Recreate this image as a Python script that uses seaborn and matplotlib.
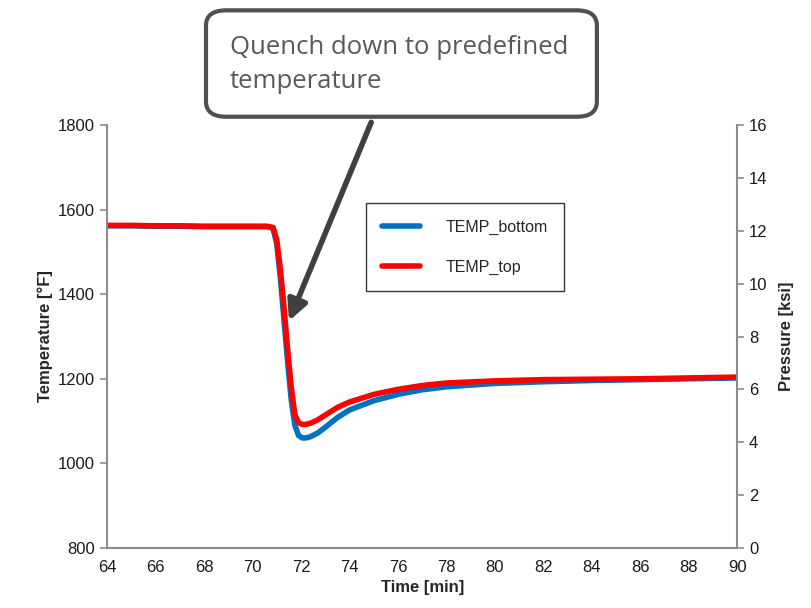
import numpy as np
import pandas as pd
import matplotlib.pyplot as plt
import seaborn as sns
from matplotlib.patches import FancyBboxPatch, FancyArrowPatch

# data
time = [64, 65, 66, 67, 68, 69, 70, 70.6, 70.85, 71.0, 71.15, 71.3, 71.45, 71.6, 71.75,
        71.9, 72.05, 72.2, 72.4, 72.7, 73.0, 73.5, 74.0, 75.0, 76.0, 77.0, 78.0,
        80.0, 82.0, 84.0, 86.0, 88.0, 90.0]
temp_bottom = [1562, 1562, 1561, 1561, 1560, 1560, 1560, 1560, 1556, 1520, 1440, 1340, 1240,
               1150, 1090, 1066, 1060, 1060, 1063, 1072, 1085, 1108, 1126, 1148, 1163, 1174,
               1181, 1189, 1193, 1196, 1198, 1200, 1202]
temp_top = [1563, 1563, 1562, 1562, 1561, 1561, 1561, 1561, 1558, 1530, 1460, 1370, 1270,
            1180, 1115, 1096, 1092, 1092, 1095, 1103, 1114, 1132, 1145, 1163, 1175, 1184,
            1190, 1195, 1198, 1199, 1200, 1202, 1204]

df = pd.DataFrame({
    "Time": time * 2,
    "Temp": temp_bottom + temp_top,
    "Series": ["TEMP_bottom"] * len(time) + ["TEMP_top"] * len(time),
})

sns.set_style("white")
plt.rcParams['font.family'] = ['Liberation Sans', 'DejaVu Sans']

fig = plt.figure(figsize=(8.11, 6.08), dpi=100)
ax = fig.add_axes([0.132, 0.099, 0.777, 0.695])

sns.lineplot(data=df, x="Time", y="Temp", hue="Series",
             palette={"TEMP_bottom": "#0070C0", "TEMP_top": "#FF0000"},
             linewidth=4, ax=ax)

ax.set_xlim(64, 90)
ax.set_ylim(800, 1800)
ax.set_xticks(np.arange(64, 91, 2))
ax.set_yticks(np.arange(800, 1801, 200))
ax.set_xlabel("Time [min]", fontsize=12, fontweight="bold")
ax.set_ylabel("Temperature [°F]", fontsize=12, fontweight="bold")

ax2 = ax.twinx()
ax2.set_ylim(0, 16)
ax2.set_yticks(np.arange(0, 17, 2))
ax2.set_ylabel("Pressure [ksi]", fontsize=12, fontweight="bold", labelpad=8)

for a in (ax, ax2):
    a.spines["top"].set_visible(False)
    for s in a.spines.values():
        s.set_color("#8c8c8c")
        s.set_linewidth(1.5)
    a.tick_params(colors="#8c8c8c", labelcolor="#1a1a1a", labelsize=12,
                  direction="out", length=5, width=1.2)
ax2.spines["left"].set_visible(False)
ax2.spines["bottom"].set_visible(False)
ax.spines["right"].set_visible(False)

leg = ax.legend(loc="upper left", bbox_to_anchor=(0.411, 0.815), fontsize=11.5,
                frameon=True, fancybox=False, edgecolor="black",
                borderpad=1.0, labelspacing=1.6, handlelength=2.4,
                handletextpad=1.6, borderaxespad=0)
leg.get_frame().set_linewidth(1.0)

# callout box with arrow
box = FancyBboxPatch((0.254, 0.808), 0.482, 0.175,
                     boxstyle="round,pad=0,rounding_size=0.025",
                     transform=fig.transFigure, facecolor="white",
                     edgecolor="#505050", linewidth=3, zorder=5)
fig.patches.append(box)
fig.text(0.283, 0.942, "Quench down to predefined\ntemperature",
         fontsize=18.5, color="#595959", family="Open Sans",
         va="top", ha="left", linespacing=1.45, zorder=6)
fig.patches.append(FancyArrowPatch(
    (0.459, 0.803), (0.355, 0.468), transform=fig.transFigure,
    arrowstyle="-|>,head_length=12,head_width=6", color="#404040",
    linewidth=4, zorder=6))

fig.savefig("out.png", dpi=100)
